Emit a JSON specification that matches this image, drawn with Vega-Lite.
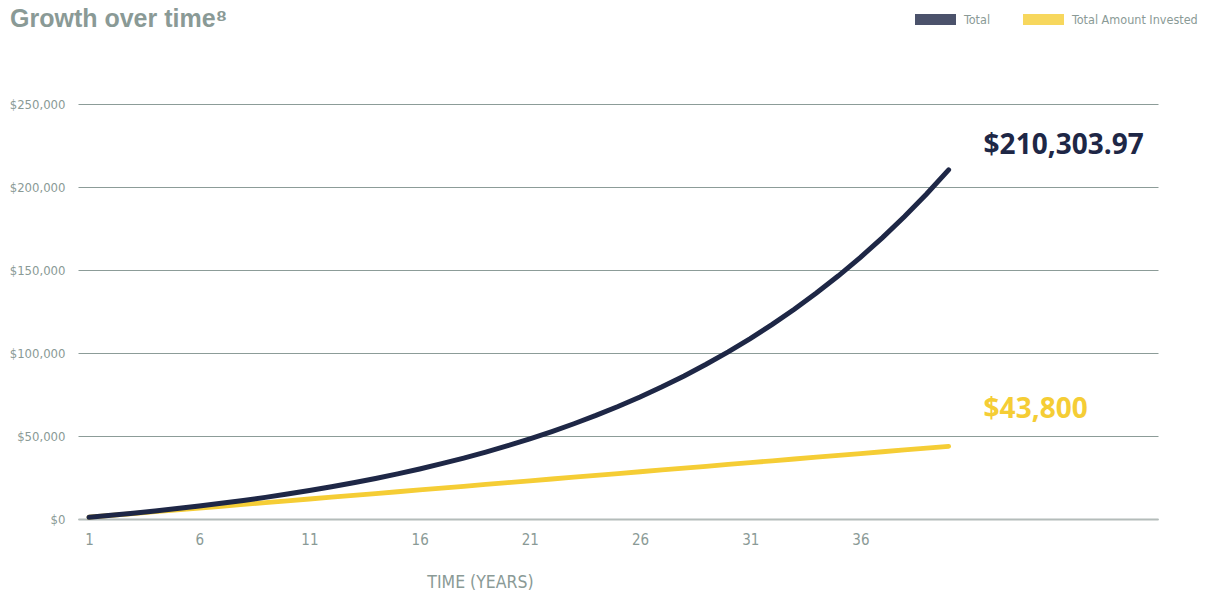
{
  "$schema": "https://vega.github.io/schema/vega-lite/v6.json",
  "width": 1080,
  "height": 415,
  "autosize": {"type": "none"},
  "padding": {"left": 78, "top": 104, "right": 52, "bottom": 75},
  "background": "white",
  "title": {
    "text": "Growth over time⁸",
    "anchor": "start",
    "frame": "group",
    "dx": -68,
    "offset": -33,
    "font": "Liberation Sans",
    "fontSize": 25,
    "fontWeight": "bold",
    "color": "#8a9a96"
  },
  "config": {
    "view": {"stroke": null},
    "axis": {"labelFont": "DejaVu Sans Condensed", "titleFont": "DejaVu Sans Condensed"},
    "legend": {"labelFont": "DejaVu Sans Condensed"}
  },
  "data": {
    "values": [
      {"year": 1, "series": "Total", "value": 1095},
      {"year": 2, "series": "Total", "value": 2265},
      {"year": 3, "series": "Total", "value": 3515},
      {"year": 4, "series": "Total", "value": 4851},
      {"year": 5, "series": "Total", "value": 6278},
      {"year": 6, "series": "Total", "value": 7803},
      {"year": 7, "series": "Total", "value": 9433},
      {"year": 8, "series": "Total", "value": 11174},
      {"year": 9, "series": "Total", "value": 13034},
      {"year": 10, "series": "Total", "value": 15022},
      {"year": 11, "series": "Total", "value": 17146},
      {"year": 12, "series": "Total", "value": 19416},
      {"year": 13, "series": "Total", "value": 21841},
      {"year": 14, "series": "Total", "value": 24432},
      {"year": 15, "series": "Total", "value": 27200},
      {"year": 16, "series": "Total", "value": 30159},
      {"year": 17, "series": "Total", "value": 33320},
      {"year": 18, "series": "Total", "value": 36697},
      {"year": 19, "series": "Total", "value": 40306},
      {"year": 20, "series": "Total", "value": 44161},
      {"year": 21, "series": "Total", "value": 48282},
      {"year": 22, "series": "Total", "value": 52684},
      {"year": 23, "series": "Total", "value": 57388},
      {"year": 24, "series": "Total", "value": 62414},
      {"year": 25, "series": "Total", "value": 67785},
      {"year": 26, "series": "Total", "value": 73523},
      {"year": 27, "series": "Total", "value": 79654},
      {"year": 28, "series": "Total", "value": 86206},
      {"year": 29, "series": "Total", "value": 93206},
      {"year": 30, "series": "Total", "value": 100685},
      {"year": 31, "series": "Total", "value": 108677},
      {"year": 32, "series": "Total", "value": 117217},
      {"year": 33, "series": "Total", "value": 126341},
      {"year": 34, "series": "Total", "value": 136090},
      {"year": 35, "series": "Total", "value": 146507},
      {"year": 36, "series": "Total", "value": 157638},
      {"year": 37, "series": "Total", "value": 169531},
      {"year": 38, "series": "Total", "value": 182239},
      {"year": 39, "series": "Total", "value": 195818},
      {"year": 40, "series": "Total", "value": 210303.97},
      {"year": 1, "series": "Total Amount Invested", "value": 1095},
      {"year": 2, "series": "Total Amount Invested", "value": 2190},
      {"year": 3, "series": "Total Amount Invested", "value": 3285},
      {"year": 4, "series": "Total Amount Invested", "value": 4380},
      {"year": 5, "series": "Total Amount Invested", "value": 5475},
      {"year": 6, "series": "Total Amount Invested", "value": 6570},
      {"year": 7, "series": "Total Amount Invested", "value": 7665},
      {"year": 8, "series": "Total Amount Invested", "value": 8760},
      {"year": 9, "series": "Total Amount Invested", "value": 9855},
      {"year": 10, "series": "Total Amount Invested", "value": 10950},
      {"year": 11, "series": "Total Amount Invested", "value": 12045},
      {"year": 12, "series": "Total Amount Invested", "value": 13140},
      {"year": 13, "series": "Total Amount Invested", "value": 14235},
      {"year": 14, "series": "Total Amount Invested", "value": 15330},
      {"year": 15, "series": "Total Amount Invested", "value": 16425},
      {"year": 16, "series": "Total Amount Invested", "value": 17520},
      {"year": 17, "series": "Total Amount Invested", "value": 18615},
      {"year": 18, "series": "Total Amount Invested", "value": 19710},
      {"year": 19, "series": "Total Amount Invested", "value": 20805},
      {"year": 20, "series": "Total Amount Invested", "value": 21900},
      {"year": 21, "series": "Total Amount Invested", "value": 22995},
      {"year": 22, "series": "Total Amount Invested", "value": 24090},
      {"year": 23, "series": "Total Amount Invested", "value": 25185},
      {"year": 24, "series": "Total Amount Invested", "value": 26280},
      {"year": 25, "series": "Total Amount Invested", "value": 27375},
      {"year": 26, "series": "Total Amount Invested", "value": 28470},
      {"year": 27, "series": "Total Amount Invested", "value": 29565},
      {"year": 28, "series": "Total Amount Invested", "value": 30660},
      {"year": 29, "series": "Total Amount Invested", "value": 31755},
      {"year": 30, "series": "Total Amount Invested", "value": 32850},
      {"year": 31, "series": "Total Amount Invested", "value": 33945},
      {"year": 32, "series": "Total Amount Invested", "value": 35040},
      {"year": 33, "series": "Total Amount Invested", "value": 36135},
      {"year": 34, "series": "Total Amount Invested", "value": 37230},
      {"year": 35, "series": "Total Amount Invested", "value": 38325},
      {"year": 36, "series": "Total Amount Invested", "value": 39420},
      {"year": 37, "series": "Total Amount Invested", "value": 40515},
      {"year": 38, "series": "Total Amount Invested", "value": 41610},
      {"year": 39, "series": "Total Amount Invested", "value": 42705},
      {"year": 40, "series": "Total Amount Invested", "value": 43800}
    ]
  },
  "encoding": {
    "x": {
      "field": "year",
      "type": "quantitative",
      "scale": {"domain": [0.5, 49.5], "nice": false, "zero": false},
      "axis": {
        "values": [1, 6, 11, 16, 21, 26, 31, 36],
        "title": "TIME (YEARS)",
        "titleX": 402,
        "titleY": 63,
        "titleFontSize": 17.5,
        "titleFontWeight": "normal",
        "titleColor": "#8a9a96",
        "titleBaseline": "middle",
        "labelFontSize": 15,
        "labelColor": "#8a9a96",
        "labelPadding": 13,
        "ticks": false,
        "grid": false,
        "domain": true,
        "domainColor": "#b4bcba",
        "domainWidth": 2,
        "labelFlush": false,
        "labelOverlap": false
      }
    },
    "y": {
      "field": "value",
      "type": "quantitative",
      "scale": {"domain": [0, 250000], "nice": false},
      "axis": {
        "values": [0, 50000, 100000, 150000, 200000, 250000],
        "format": "$,.0f",
        "title": null,
        "ticks": false,
        "domain": false,
        "grid": true,
        "gridColor": "#8c9c98",
        "gridWidth": 1,
        "labelFontSize": 13,
        "labelColor": "#8a9a96",
        "labelPadding": 13
      }
    },
    "color": {
      "field": "series",
      "type": "nominal",
      "scale": {"domain": ["Total", "Total Amount Invested"], "range": ["#1e2746", "#f5cd35"]},
      "legend": {
        "title": null,
        "orient": "none",
        "direction": "horizontal",
        "legendX": 837,
        "legendY": -105,
        "symbolType": "M-1,-0.27L1,-0.27L1,0.27L-1,0.27Z",
        "symbolSize": 1681,
        "symbolOpacity": 0.8,
        "symbolStrokeWidth": 0,
        "labelFontSize": 12.5,
        "labelColor": "#8a9a96",
        "labelOffset": 8,
        "columnPadding": 32
      }
    }
  },
  "layer": [
    {
      "transform": [{"filter": "datum.series === 'Total Amount Invested'"}],
      "mark": {"type": "line", "strokeWidth": 4.8, "strokeCap": "round"}
    },
    {
      "transform": [{"filter": "datum.series === 'Total'"}],
      "mark": {"type": "line", "strokeWidth": 5, "strokeCap": "round"}
    },
    {
      "transform": [{"filter": "datum.series === 'Total' && datum.year === 40"}],
      "mark": {"type": "text", "align": "left", "baseline": "middle", "dx": 35, "dy": -24, "font": "Open Sans", "fontSize": 28, "fontWeight": "bold"},
      "encoding": {"text": {"field": "value", "type": "quantitative", "format": "$,.2f"}}
    },
    {
      "transform": [{"filter": "datum.series === 'Total Amount Invested' && datum.year === 40"}],
      "mark": {"type": "text", "align": "left", "baseline": "middle", "dx": 35, "dy": -36, "font": "Open Sans", "fontSize": 28, "fontWeight": "bold"},
      "encoding": {"text": {"field": "value", "type": "quantitative", "format": "$,.0f"}}
    }
  ]
}
